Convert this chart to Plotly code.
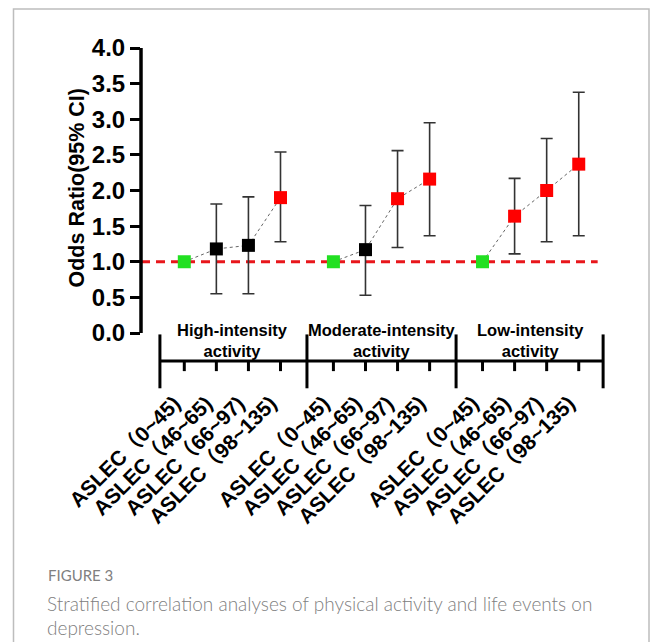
import plotly.graph_objects as go

# ---------------- data ----------------
group_names = ["High-intensity<br>activity", "Moderate-intensity<br>activity", "Low-intensity<br>activity"]
aslec_labels = ["ASLEC（0~45)", "ASLEC（46~65)", "ASLEC（66~97)", "ASLEC（98~135)"]

or_high = [1.00, 1.18, 1.23, 1.90]
lo_high = [1.00, 0.55, 0.55, 1.28]
hi_high = [1.00, 1.81, 1.91, 2.54]

or_mod = [1.00, 1.17, 1.885, 2.16]
lo_mod = [1.00, 0.53, 1.20, 1.365]
hi_mod = [1.00, 1.79, 2.56, 2.95]

or_low = [1.00, 1.64, 2.00, 2.37]
lo_low = [1.00, 1.11, 1.28, 1.365]
hi_low = [1.00, 2.17, 2.73, 3.38]

y_ticks = [0.0, 0.5, 1.0, 1.5, 2.0, 2.5, 3.0, 3.5, 4.0]
reference_or = 1.0

caption_title = "FIGURE 3"
caption_line1 = "Stratified correlation analyses of physical activity and life events on"
caption_line2 = "depression."

# ---------------- layout constants ----------------
OFF = 8  # page body margin of the html file
W, H = 658 - 2 * OFF, 642 - OFF
ML, MT = 133, 40
PW, PH = 465, 342
MR, MB = W - ML - PW, H - MT - PH
GROUP_STEP = 4.65
X_RANGE = [-1.35, 13.15]
Y_RANGE = [-0.8, 4.0]
REF_LINE_END = 12.89
FONT = "Liberation Sans, Arial, Noto Sans CJK SC, sans-serif"
CAP_FONT = "Lato, Open Sans, sans-serif"


def px_x(px):
    return (px - OFF - ML) / PW


def px_y(py):
    return 1 - (py - OFF - MT) / PH


def marker_color(o, lo, hi):
    if lo == hi == o:
        return "#22e022"
    if lo > reference_or:
        return "#ff0000"
    return "#000000"


series = [(or_high, lo_high, hi_high), (or_mod, lo_mod, hi_mod), (or_low, lo_low, hi_low)]

fig = go.Figure()
tickvals, ticktext = [], []
for g, (ors, los, his) in enumerate(series):
    xs = [g * GROUP_STEP + i for i in range(len(ors))]
    tickvals += xs
    ticktext += aslec_labels
    fig.add_trace(go.Scatter(
        x=xs, y=ors, mode="lines+markers",
        line=dict(color="#666666", width=1, dash="dot"),
        marker=dict(symbol="square", size=13,
                    color=[marker_color(o, l, h) for o, l, h in zip(ors, los, his)]),
        error_y=dict(type="data", symmetric=False,
                     array=[h - o for o, h in zip(ors, his)],
                     arrayminus=[o - l for o, l in zip(ors, los)],
                     color="#333333", thickness=1.6, width=6),
        showlegend=False, hoverinfo="skip", cliponaxis=False,
    ))

shapes = []
# reference line
shapes.append(dict(type="line", xref="x", yref="y", x0=X_RANGE[0], x1=REF_LINE_END,
                   y0=reference_or, y1=reference_or, layer="below",
                   line=dict(color="#e8161b", width=3.2, dash="9px,6px")))
# y axis line
shapes.append(dict(type="line", xref="paper", yref="y", x0=0, x1=0, y0=y_ticks[0], y1=y_ticks[-1],
                   line=dict(color="black", width=3.5)))

# bracket axis for groups
BR_Y = -0.394
BR_TOP, BR_BOT = -0.02, -0.776
TICK_BOT = -0.535
n = len(aslec_labels)
bounds = [-0.76]
for g in range(len(series) - 1):
    bounds.append(((g * GROUP_STEP + n - 1) + ((g + 1) * GROUP_STEP)) / 2)
bounds.append((len(series) - 1) * GROUP_STEP + n - 1 + 0.76)
shapes.append(dict(type="line", xref="x", yref="y", x0=bounds[0], x1=bounds[-1], y0=BR_Y, y1=BR_Y,
                   line=dict(color="black", width=3)))
for b in bounds:
    shapes.append(dict(type="line", xref="x", yref="y", x0=b, x1=b, y0=BR_TOP, y1=BR_BOT,
                       line=dict(color="black", width=3)))
for tv in tickvals:
    shapes.append(dict(type="line", xref="x", yref="y", x0=tv, x1=tv, y0=BR_Y, y1=TICK_BOT,
                       line=dict(color="black", width=3)))
# figure border (edges as close to the page edges as the svg allows)
shapes.append(dict(type="rect", xref="paper", yref="paper",
                   x0=px_x(13.5), x1=px_x(OFF + W - 1), y0=px_y(680), y1=px_y(OFF + 1),
                   line=dict(color="#bdbdbd", width=1.5), fillcolor="rgba(0,0,0,0)"))

annotations = []
for g, name in enumerate(group_names):
    cx = g * GROUP_STEP + (n - 1) / 2
    annotations.append(dict(x=cx, y=-0.10, xref="x", yref="y", text=name, showarrow=False,
                            font=dict(family=FONT, size=16.5, color="black", weight="bold"),
                            xanchor="center", yanchor="middle"))
annotations.append(dict(x=px_x(76), y=px_y(187.5), xref="paper", yref="paper",
                        text="Odds Ratio(95% CI)", textangle=-90, showarrow=False,
                        font=dict(family=FONT, size=21.5, color="black", weight="bold"),
                        xanchor="center", yanchor="middle"))
annotations.append(dict(x=px_x(46), y=px_y(575), xref="paper", yref="paper", text=caption_title,
                        showarrow=False, xanchor="left", yanchor="middle",
                        font=dict(family=CAP_FONT, size=15, color="#808080")))
annotations.append(dict(x=px_x(45), y=px_y(603), xref="paper", yref="paper", text=caption_line1,
                        showarrow=False, xanchor="left", yanchor="middle",
                        font=dict(family=CAP_FONT, size=19, color="#808080", weight=300)))
annotations.append(dict(x=px_x(45), y=px_y(627), xref="paper", yref="paper", text=caption_line2,
                        showarrow=False, xanchor="left", yanchor="middle",
                        font=dict(family=CAP_FONT, size=19, color="#808080", weight=300)))

fig.update_layout(
    width=W, height=H,
    margin=dict(l=ML, r=MR, t=MT, b=MB, autoexpand=False),
    paper_bgcolor="white", plot_bgcolor="white",
    shapes=shapes, annotations=annotations,
    xaxis=dict(range=X_RANGE, tickvals=tickvals, ticktext=ticktext, tickangle=-45,
               showgrid=False, zeroline=False, showline=False, ticks="",
               ticklabelshift=-10, ticklabelstandoff=-4,
               tickfont=dict(family=FONT, size=21, color="black", weight="bold")),
    yaxis=dict(range=Y_RANGE, tickvals=y_ticks, tickformat=".1f",
               showgrid=False, zeroline=False, showline=False,
               ticks="outside", ticklen=10, tickwidth=3, tickcolor="black",
               tickfont=dict(family=FONT, size=24, color="black", weight="bold")),
)

fig.write_html("out.html")
